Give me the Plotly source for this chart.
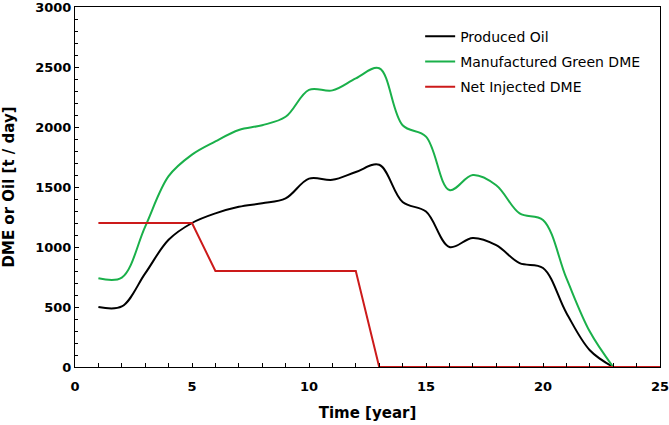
import plotly.graph_objects as go

years = list(range(1, 24))
produced_oil = [500, 505, 780, 1060, 1200, 1280, 1335, 1365, 1405, 1570, 1560, 1625, 1685,
                1375, 1295, 1000, 1075, 1015, 865, 825, 450, 140, 0]
green_dme = [740, 745, 1170, 1590, 1770, 1880, 1975, 2015, 2085, 2310, 2305, 2405, 2490,
             2015, 1920, 1475, 1600, 1515, 1280, 1225, 740, 295, 0]
inj_years = [1, 5, 6, 12, 13, 25]
inj_dme = [1200, 1200, 800, 800, 0, 0]

fig = go.Figure()
fig.add_trace(go.Scatter(x=years, y=produced_oil, mode="lines", name="Produced Oil", legendgroup="a",
                         line=dict(color="#000000", width=2, shape="spline", smoothing=1)))
fig.add_trace(go.Scatter(x=years, y=green_dme, mode="lines", name="Manufactured Green DME", legendgroup="b",
                         line=dict(color="#1ab04a", width=2, shape="spline", smoothing=1)))
fig.add_trace(go.Scatter(x=inj_years, y=inj_dme, mode="lines", name="Net Injected DME", legendgroup="c",
                         line=dict(color="#cc1a1a", width=2)))

fig.update_layout(
    width=669, height=425,
    margin=dict(l=75, r=9, t=7, b=58),
    paper_bgcolor="white", plot_bgcolor="white",
    font=dict(family="DejaVu Sans", color="black"),
    showlegend=True,
    legend=dict(x=0.59, y=0.962, xanchor="left", yanchor="top",
                font=dict(family="DejaVu Sans", size=14, color="black"),
                bgcolor="rgba(0,0,0,0)", itemwidth=30, tracegroupgap=4, traceorder="grouped"),
    xaxis=dict(range=[0, 25], dtick=5, tick0=0, showgrid=False, zeroline=False,
               showline=True, linecolor="black", linewidth=1, mirror=True, automargin=False,
               ticks="inside", ticklen=4, tickcolor="black", ticklabeloverflow="allow",
               ticklabelstandoff=7,
               minor=dict(dtick=1, ticks="inside", ticklen=4, tickcolor="black"),
               tickfont=dict(family="DejaVu Sans", size=13, color="black", weight="bold"),
               title=dict(text="<b>Time [year]</b>", font=dict(family="DejaVu Sans", size=15, color="black"), standoff=14)),
    yaxis=dict(range=[0, 3000], dtick=500, tick0=0, showgrid=False, zeroline=False,
               showline=True, linecolor="black", linewidth=1, mirror=True, automargin=False,
               ticks="inside", ticklen=4, tickcolor="black", ticklabeloverflow="allow",
               minor=dict(dtick=100, ticks="inside", ticklen=3, tickcolor="black"),
               tickfont=dict(family="DejaVu Sans", size=13, color="black", weight="bold"),
               title=dict(text="<b>DME or Oil [t / day]</b>", font=dict(family="DejaVu Sans", size=15, color="black"), standoff=25)),
)
fig.write_html("out.html", config={"displayModeBar": False},
               post_script="document.body.style.margin='0';")
